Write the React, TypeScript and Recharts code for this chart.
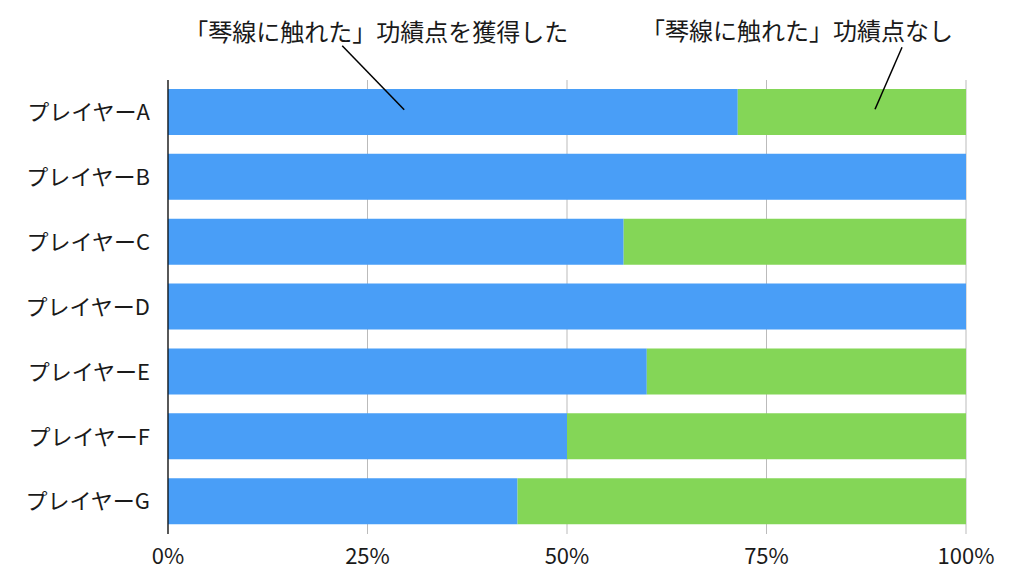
import React from 'react';
import { BarChart, Bar, XAxis, YAxis, CartesianGrid, LabelList } from 'recharts';

const categories = ['プレイヤーA', 'プレイヤーB', 'プレイヤーC', 'プレイヤーD', 'プレイヤーE', 'プレイヤーF', 'プレイヤーG'];
const gotValues = [71.4, 100, 57.1, 100, 60, 50, 43.8];
const noneValues = [28.6, 0, 42.9, 0, 40, 50, 56.2];
const xTicks = [0, 25, 50, 75, 100];
const seriesNames = ['「琴線に触れた」功績点を獲得した', '「琴線に触れた」功績点なし'];
const annotationTargets = [29.6, 88.6];

const BLUE = '#499EF7';
const GREEN = '#84D657';
const FONT = '"Noto Sans CJK JP", "Noto Sans", sans-serif';

const data = categories.map((name, i) => ({ name, got: gotValues[i], none: noneValues[i] }));

const getBox = (props: any) => {
  const vb = props.viewBox || {};
  return {
    x: Number(props.x ?? vb.x),
    y: Number(props.y ?? vb.y),
    width: Number(props.width ?? vb.width),
    height: Number(props.height ?? vb.height),
  };
};

const GotAnnotation = (props: any) => {
  if (props.index !== 0) return null;
  const { x, y, width, height } = getBox(props);
  const ex = x + (annotationTargets[0] * width) / gotValues[0];
  const ey = y + height * 0.45;
  return (
    <g>
      <line x1={ex - 62} y1={ey - 64} x2={ex} y2={ey} stroke="#000" strokeWidth={1.5} />
      <text x={ex - 28} y={ey - 69} textAnchor="middle" fontSize={24} fill="#1a1a1a" fontFamily={FONT}>
        {seriesNames[0]}
      </text>
    </g>
  );
};

const NoneAnnotation = (props: any) => {
  if (props.index !== 0) return null;
  const { x, y, width, height } = getBox(props);
  const ex = x + ((annotationTargets[1] - gotValues[0]) * width) / noneValues[0];
  const ey = y + height * 0.44;
  return (
    <g>
      <line x1={ex + 27} y1={ey - 62} x2={ex} y2={ey} stroke="#000" strokeWidth={1.5} />
      <text x={ex - 78} y={ey - 69} textAnchor="middle" fontSize={24} fill="#1a1a1a" fontFamily={FONT}>
        {seriesNames[1]}
      </text>
    </g>
  );
};

export default function App() {
  return (
    <div style={{ position: 'absolute', left: 0, top: 0, background: '#fff' }}>
      <BarChart
        width={1024}
        height={584}
        data={data}
        layout="vertical"
        margin={{ top: 80, right: 58, bottom: 10, left: 0 }}
        barSize={46}
        style={{ fontFamily: FONT }}
      >
        <CartesianGrid horizontal={false} vertical stroke="#bbbbbb" strokeWidth={1} />
        <XAxis
          type="number"
          domain={[0, 100]}
          ticks={xTicks}
          tickFormatter={(v: number) => `${v}%`}
          axisLine={false}
          tickLine={false}
          tickSize={0}
          tickMargin={14}
          height={40}
          tick={{ fontSize: 22, fill: '#1a1a1a', fontFamily: FONT }}
          interval={0}
        />
        <YAxis
          type="category"
          dataKey="name"
          width={168}
          axisLine={{ stroke: '#000', strokeWidth: 1.2 }}
          tickLine={false}
          tickSize={0}
          tickMargin={18}
          tick={{ fontSize: 22, fill: '#1a1a1a', fontFamily: FONT }}
          interval={0}
        />
        <Bar dataKey="got" stackId="s" fill={BLUE} isAnimationActive={false}>
          <LabelList dataKey="got" content={GotAnnotation} />
        </Bar>
        <Bar dataKey="none" stackId="s" fill={GREEN} isAnimationActive={false}>
          <LabelList dataKey="none" content={NoneAnnotation} />
        </Bar>
      </BarChart>
    </div>
  );
}
